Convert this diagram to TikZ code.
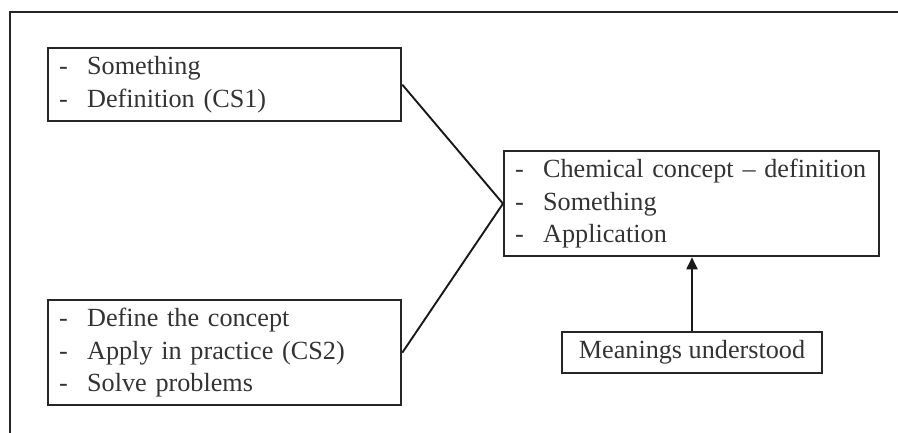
\documentclass[tikz,border=0pt]{standalone}
\usepackage{fontspec}
\setmainfont{Liberation Serif}
\usetikzlibrary{arrows.meta}
\newcommand\dashitem[1]{\mbox{\makebox[28pt][l]{-}#1}}
\begin{document}
\begin{tikzpicture}[x=1pt,y=-1pt,
  box/.style={draw=black!85, line width=2.3pt, rectangle, inner xsep=11pt, inner ysep=0pt,
    font=\fontsize{26.2}{32.5}\selectfont, text=black!80, align=left, anchor=north west},
  conn/.style={draw=black!90, line width=1.9pt}]
\useasboundingbox (0,0) rectangle (898,433);
\draw[line width=2.3pt, black!85] (10,440) -- (10,12) -- (905,12);
\node[box, text width=331pt, minimum height=73pt] (b1) at (47,47)
  {\dashitem{Something}\\\dashitem{Definition (CS1)}};
\node[box, text width=331pt, minimum height=105pt] (b2) at (47,299)
  {\dashitem{Define the concept}\\\dashitem{Apply in practice (CS2)}\\\dashitem{Solve problems}};
\node[box, text width=353pt, minimum height=105pt] (c) at (503,150)
  {\dashitem{Chemical concept -- definition}\\\dashitem{Something}\\\dashitem{Application}};
\node[box, anchor=center, minimum width=260pt, minimum height=41pt, inner xsep=4pt] (m) at (692,352.5)
  {Meanings understood};
\draw[conn] (b1.east) -- (c.west);
\draw[conn] (b2.east) -- (c.west);
\draw[conn, -{Triangle[length=12pt,width=11pt]}] (m.north) -- (m.north |- c.south);
\end{tikzpicture}
\end{document}
